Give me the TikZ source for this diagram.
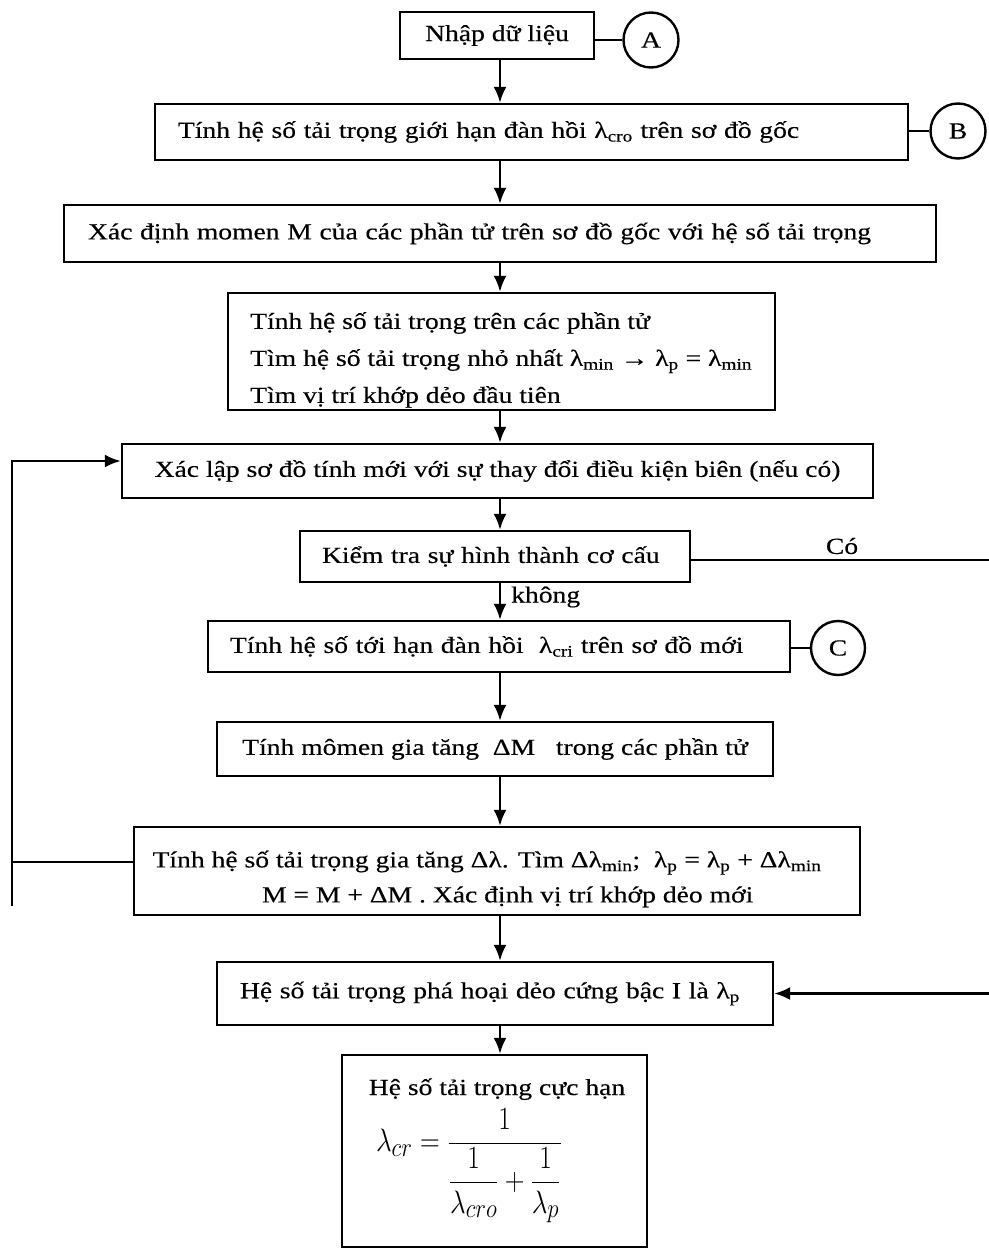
\documentclass[tikz,border=0pt]{standalone}
\usepackage{fontspec}
\setmainfont{Liberation Serif}[FakeStretch=1.2, FakeBold=0.3]
\usepackage{amsmath}
\usepackage{graphicx}
\usetikzlibrary{arrows.meta}
\begin{document}
\begin{tikzpicture}[x=1pt,y=-1pt,
  txt/.style={font=\fontsize{23}{35}\selectfont},
  box/.style={draw, line width=2.4pt, inner sep=0pt, txt},
  conn/.style={line width=2.4pt},
  arr/.style={line width=2.4pt, -{Latex[length=16pt,width=13pt]}},
  circ/.style={draw, circle, line width=2.4pt, minimum size=55pt, inner sep=0pt, txt},
  lbl/.style={txt, inner sep=0pt}
]
\useasboundingbox[fill=white] (0,0) rectangle (988,1249);
\coordinate (axis) at (500,0);

\node[box, minimum width=194pt, minimum height=47pt] (b1) at (497,35.5) {Nhập dữ liệu};
\node[circ] (A) at (651,40) {A};

\node[box, minimum width=753pt, minimum height=56pt, text width=707pt, inner xsep=23pt, align=left] (b2) at (531.5,132) {Tính hệ số tải trọng giới hạn đàn hồi λ\textsubscript{cro} trên sơ đồ gốc};
\node[circ] (B) at (958,131) {B};

\node[box, minimum width=872pt, minimum height=57pt, text width=824pt, inner xsep=24pt, align=left] (b3) at (500,233.5) {Xác định momen M của các phần tử trên sơ đồ gốc với hệ số tải trọng};

\node[box, minimum width=547pt, minimum height=117pt] (b4) at (501.5,351.5) {};
\node[lbl, align=left, anchor=north west, font=\fontsize{23}{37}\selectfont] (t4) at (250,312) {Tính hệ số tải trọng trên các phần tử\\Tìm hệ số tải trọng nhỏ nhất λ\textsubscript{min} → λ\textsubscript{p} = λ\textsubscript{min}\\Tìm vị trí khớp dẻo đầu tiên};

\node[box, minimum width=751pt, minimum height=54pt] (b5) at (497.5,471) {Xác lập sơ đồ tính mới với sự thay đổi điều kiện biên (nếu có)};

\node[box, minimum width=390pt, minimum height=51pt, text width=368pt, inner xsep=11pt, align=left] (b6) at (495,556.5) {\hspace*{11pt}Kiểm tra sự hình thành cơ cấu};

\node[box, minimum width=582pt, minimum height=51pt, text width=560pt, inner xsep=11pt, align=left] (b7) at (499,646.5) {\hspace*{11pt}Tính hệ số tới hạn đàn hồi\ \ λ\textsubscript{cri} trên sơ đồ mới};
\node[circ, minimum size=54pt] (C) at (838,648) {C};

\node[box, minimum width=556pt, minimum height=54pt] (b8) at (495,749) {Tính mômen gia tăng\ \ ΔM\ \ \ trong các phần tử};

\node[box, minimum width=726pt, minimum height=88pt] (b9) at (497,871) {};
\node[lbl, align=center] (t9) at (487,879) {Tính hệ số tải trọng gia tăng Δλ. Tìm Δλ\textsubscript{min};\ \ λ\textsubscript{p} = λ\textsubscript{p} + Δλ\textsubscript{min}\\\ \ \ \ \ \ M = M + ΔM . Xác định vị trí khớp dẻo mới};

\node[box, minimum width=556pt, minimum height=63pt, text width=534pt, inner xsep=11pt, align=left] (b10) at (495,993.5) {\hspace*{12pt}Hệ số tải trọng phá hoại dẻo cứng bậc I là λ\textsubscript{p}};

\node[box, minimum width=305pt, minimum height=192pt] (b11) at (494.5,1151) {};
\node[lbl, anchor=base] (t11) at (497,1095) {Hệ số tải trọng cực hạn};
\node[inner sep=0pt] (f11) at (469,1166) {\scalebox{1.1}[1.3]{\fontsize{24.88}{30}\selectfont$\lambda_{cr} = \dfrac{1}{\dfrac{1}{\lambda_{cro}}+\dfrac{1}{\lambda_p}}$}};

% connectors
\draw[conn] (b1.east |- A.west) -- (A.west);
\draw[conn] (b2.east |- B.west) -- (B.west);
\draw[conn] (b7.east |- C.west) -- (C.west);
\draw[arr] (b1.south -| axis) -- (b2.north -| axis);
\draw[arr] (b2.south -| axis) -- (b3.north -| axis);
\draw[arr] (b3.south -| axis) -- (b4.north -| axis);
\draw[arr] (b4.south -| axis) -- (b5.north -| axis);
\draw[arr] (b5.south -| axis) -- (b6.north -| axis);
\draw[arr] (b6.south -| axis) -- (b7.north -| axis);
\draw[arr] (b7.south -| axis) -- (b8.north -| axis);
\draw[arr] (b8.south -| axis) -- (b9.north -| axis);
\draw[arr] (b9.south -| axis) -- (b10.north -| axis);
\draw[arr] (b10.south -| axis) -- (b11.north -| axis);

\node[lbl, anchor=west] (no) at (511,597) {không};
\node[lbl] (yes) at (842,546) {Có};

\coordinate (r1) at (990,560);
\draw[arr] (b6.east |- r1) -- (r1) |- (b10.east);

\coordinate (l0) at (12,862);
\coordinate (l1) at (12,461);
\coordinate (l2) at (12,906);
\draw[arr] (b9.west |- l0) -- (l0) -- (l1) -- (b5.west |- l1);
\draw[conn] (l0) -- (l2);
\end{tikzpicture}
\end{document}
